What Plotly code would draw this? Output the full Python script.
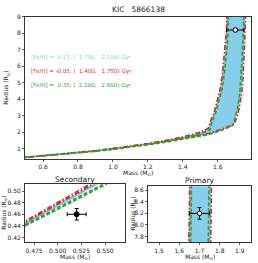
import plotly.graph_objects as go

# ---------------- data ----------------
# [Fe/H] = 0.15 isochrones (1.700 / 2.100 Gyr)
mass_b_young = [0.46, 0.50, 0.55, 0.60, 0.70, 0.80, 0.90, 1.00, 1.10, 1.20, 1.30, 1.40, 1.50, 1.55, 1.62, 1.686, 1.700, 1.716, 1.730, 1.738, 1.745, 1.750, 1.754, 1.757]
radius_b_young = [0.438, 0.474, 0.519, 0.565, 0.655, 0.75, 0.86, 0.98, 1.11, 1.26, 1.43, 1.62, 1.80, 1.90, 2.15, 2.43, 2.80, 3.40, 4.30, 5.20, 6.50, 7.40, 8.20, 9.50]
mass_b_old = [0.46, 0.50, 0.55, 0.60, 0.70, 0.80, 0.90, 1.00, 1.10, 1.20, 1.30, 1.40, 1.50, 1.549, 1.560, 1.583, 1.600, 1.617, 1.630, 1.640, 1.648, 1.652, 1.654]
radius_b_old = [0.440, 0.476, 0.522, 0.568, 0.66, 0.76, 0.87, 1.00, 1.13, 1.29, 1.47, 1.68, 1.95, 2.19, 2.60, 3.20, 3.90, 4.60, 5.50, 6.50, 7.40, 8.20, 9.50]

# [Fe/H] = -0.05 isochrones (1.400 / 1.750 Gyr)
mass_r_young = [0.46, 0.50, 0.55, 0.60, 0.70, 0.80, 0.90, 1.00, 1.10, 1.20, 1.30, 1.40, 1.50, 1.55, 1.62, 1.692, 1.706, 1.722, 1.736, 1.744, 1.750, 1.755, 1.758, 1.761]
radius_r_young = [0.441, 0.478, 0.524, 0.570, 0.665, 0.765, 0.875, 1.00, 1.13, 1.29, 1.46, 1.65, 1.84, 1.94, 2.18, 2.46, 2.80, 3.40, 4.30, 5.20, 6.50, 7.40, 8.20, 9.50]
mass_r_old = [0.46, 0.50, 0.55, 0.60, 0.70, 0.80, 0.90, 1.00, 1.10, 1.20, 1.30, 1.40, 1.50, 1.545, 1.556, 1.579, 1.596, 1.613, 1.626, 1.636, 1.644, 1.650, 1.652]
radius_r_old = [0.443, 0.480, 0.527, 0.574, 0.67, 0.775, 0.885, 1.02, 1.16, 1.32, 1.50, 1.72, 2.00, 2.24, 2.62, 3.20, 3.90, 4.60, 5.50, 6.50, 7.40, 8.20, 9.50]

# [Fe/H] = 0.35 isochrones (2.100 / 2.600 Gyr)
mass_g_young = [0.46, 0.50, 0.55, 0.60, 0.70, 0.80, 0.90, 1.00, 1.10, 1.20, 1.30, 1.40, 1.50, 1.55, 1.62, 1.684, 1.697, 1.712, 1.725, 1.732, 1.739, 1.743, 1.747, 1.750]
radius_g_young = [0.435, 0.469, 0.511, 0.555, 0.645, 0.74, 0.845, 0.96, 1.09, 1.23, 1.39, 1.58, 1.76, 1.86, 2.10, 2.40, 2.80, 3.40, 4.30, 5.20, 6.50, 7.40, 8.20, 9.50]
mass_g_old = [0.46, 0.50, 0.55, 0.60, 0.70, 0.80, 0.90, 1.00, 1.10, 1.20, 1.30, 1.40, 1.50, 1.553, 1.565, 1.588, 1.606, 1.624, 1.637, 1.648, 1.655, 1.659, 1.661]
radius_g_old = [0.437, 0.471, 0.514, 0.558, 0.65, 0.745, 0.855, 0.98, 1.11, 1.26, 1.44, 1.64, 1.90, 2.14, 2.56, 3.20, 3.90, 4.60, 5.50, 6.50, 7.40, 8.20, 9.50]

legend_labels = [
    "[Fe/H] =  0.15; (  1.700,   2.100) Gyr",
    "[Fe/H] = -0.05; (  1.400,   1.750) Gyr",
    "[Fe/H] =  0.35; (  2.100,   2.600) Gyr",
]

# stars: primary and secondary
primary_mass, primary_mass_err = 1.70, 0.05
primary_radius, primary_radius_err = 8.20, 0.10
secondary_mass, secondary_mass_err = 0.52, 0.01
secondary_radius, secondary_radius_err = 0.46, 0.01

title_text = "KIC   5866138"

# ---------------- styling ----------------
W, H = 258, 263
FONT = "DejaVu Sans"
BLUE_FILL = "#87CEEB"
RED = "#d62728"
GREEN = "#2ca02c"
AXC = "#333333"


def px(x):
    return x / W


def py(y):
    return 1 - y / H


fig = go.Figure()

axes = [("x", "y"), ("x2", "y2"), ("x3", "y3")]

for i, (xa, ya) in enumerate(axes):
    # blue band
    fig.add_trace(go.Scatter(
        x=mass_b_young + mass_b_old[::-1],
        y=radius_b_young + radius_b_old[::-1],
        fill="toself", fillcolor=BLUE_FILL, mode="lines",
        line=dict(color="#5fb0d8", width=0.8),
        xaxis=xa, yaxis=ya, showlegend=False, hoverinfo="skip"))
    for mx, ry in ((mass_r_young, radius_r_young), (mass_r_old, radius_r_old)):
        fig.add_trace(go.Scatter(
            x=mx, y=ry, mode="lines",
            line=dict(color=RED, width=1.6, dash="5px,2px,1.5px,2px"),
            xaxis=xa, yaxis=ya, showlegend=False))
    for mx, ry in ((mass_g_young, radius_g_young), (mass_g_old, radius_g_old)):
        fig.add_trace(go.Scatter(
            x=mx, y=ry, mode="lines",
            line=dict(color=GREEN, width=1.6, dash="4px,2px"),
            xaxis=xa, yaxis=ya, showlegend=False))

# markers with error bars
for xa, ya in (("x", "y"), ("x3", "y3")):
    fig.add_trace(go.Scatter(
        x=[primary_mass], y=[primary_radius], mode="markers",
        marker=dict(color="white", size=4.5, line=dict(color="black", width=1)),
        error_x=dict(type="constant", value=primary_mass_err, color="black", thickness=1, width=2),
        error_y=dict(type="constant", value=primary_radius_err, color="black", thickness=1, width=2),
        xaxis=xa, yaxis=ya, showlegend=False))
fig.add_trace(go.Scatter(
    x=[secondary_mass], y=[secondary_radius], mode="markers",
    marker=dict(color="black", size=5, line=dict(color="black", width=1)),
    error_x=dict(type="constant", value=secondary_mass_err, color="black", thickness=1, width=2),
    error_y=dict(type="constant", value=secondary_radius_err, color="black", thickness=1, width=2),
    xaxis="x2", yaxis="y2", showlegend=False))

tickfont = dict(family=FONT, size=6, color="#222")
axis_common = dict(showgrid=False, zeroline=False, showline=True, linecolor=AXC, linewidth=1,
                   mirror=True, ticks="outside", ticklen=2, tickwidth=0.8, tickcolor=AXC,
                   tickfont=tickfont)

fig.update_layout(
    width=W, height=H, margin=dict(l=0, r=0, t=0, b=0),
    paper_bgcolor="white", plot_bgcolor="white",
    font=dict(family=FONT, size=7, color="#222"),
    xaxis=dict(domain=[px(25), px(251)], range=[0.497, 1.79], tickvals=[0.6, 0.8, 1.0, 1.2, 1.4, 1.6],
               tickformat=".1f", anchor="y", **axis_common),
    yaxis=dict(domain=[py(157), py(13)], range=[0.4, 9.0], tickvals=[1, 2, 3, 4, 5, 6, 7, 8, 9],
               anchor="x", **axis_common),
    xaxis2=dict(domain=[px(25), px(125)], range=[0.4655, 0.571], tickvals=[0.475, 0.5, 0.525, 0.55],
                tickformat=".3f", anchor="y2", **axis_common),
    yaxis2=dict(domain=[py(242), py(183)], range=[0.4115, 0.512], tickvals=[0.42, 0.44, 0.46, 0.48, 0.5],
                tickformat=".2f", anchor="x2", **axis_common),
    xaxis3=dict(domain=[px(148), px(251)], range=[1.445, 1.955], tickvals=[1.5, 1.6, 1.7, 1.8, 1.9],
                tickformat=".1f", anchor="y3", **axis_common),
    yaxis3=dict(domain=[py(242), py(185)], range=[7.70, 8.67], tickvals=[7.8, 8.0, 8.2, 8.4, 8.6],
                tickformat=".1f", anchor="x3", **axis_common),
)

ann = []


def text(x, y, s, size=6.5, color="#222", angle=0, xanchor="center"):
    ann.append(dict(x=px(x), y=py(y), xref="paper", yref="paper", text=s, showarrow=False,
                    font=dict(family=FONT, size=size, color=color), textangle=angle,
                    xanchor=xanchor, yanchor="middle"))


text(138, 6, title_text, size=7.5)
text(75, 178, "Secondary", size=7.5)
text(200, 179, "Primary", size=7.5)
msun = "Mass (M<sub>⊙</sub>)"
rsun = "Radius (R<sub>⊙</sub>)"
text(138, 172, msun, size=6)
text(75, 257, msun, size=6)
text(200, 257, msun, size=6)
text(6, 85, rsun, size=6, angle=-90)
text(4, 212, rsun, size=6, angle=-90)
text(133, 213, rsun, size=6, angle=-90)

for lbl, col, yy in zip(legend_labels, [BLUE_FILL, RED, GREEN], [54, 69, 83]):
    text(29, yy, lbl, size=5.5, color=col, xanchor="left")

fig.update_layout(annotations=ann)

fig.write_html("out.html", config={"displayModeBar": False, "staticPlot": True},
               post_script="document.body.style.margin='0';document.body.style.overflow='hidden';")
